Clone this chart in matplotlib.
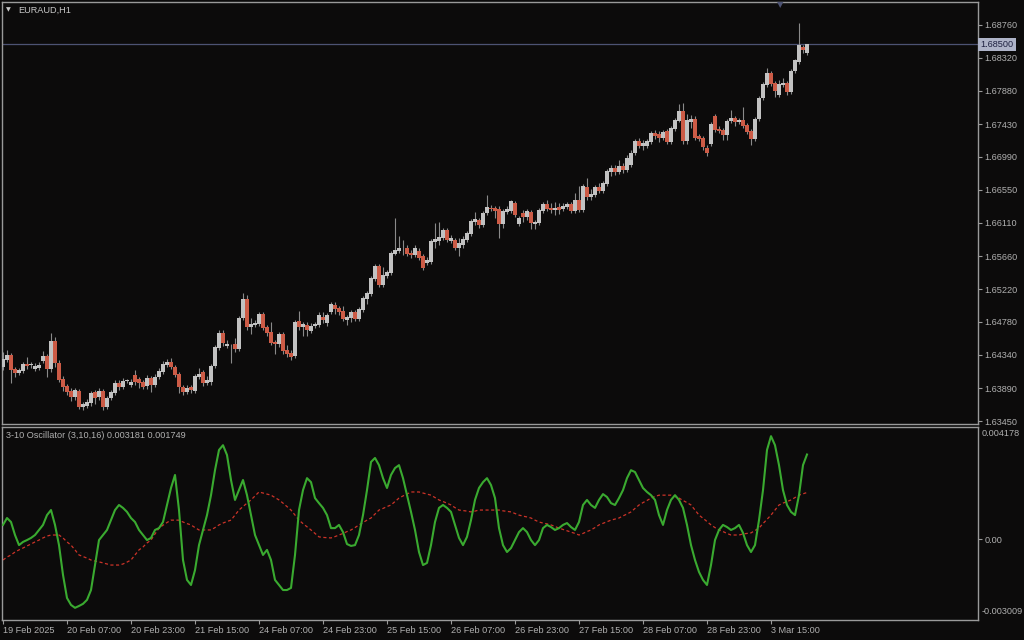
import matplotlib
matplotlib.use('Agg')
import matplotlib.pyplot as plt
import matplotlib.transforms as mtransforms
import numpy as np

# ---------------- data ----------------
opens = [
    1.6417, 1.6427, 1.6433, 1.6415, 1.6409, 1.6412, 1.6421, 1.6420, 1.6415, 1.6416,
    1.6425, 1.6432, 1.6415, 1.6452, 1.6423, 1.6401, 1.6392, 1.6385, 1.6377, 1.6385,
    1.6364, 1.6365, 1.6369, 1.6384, 1.6377, 1.6385, 1.6364, 1.6376, 1.6383, 1.6396,
    1.6391, 1.6399, 1.6393, 1.6407, 1.6401, 1.6397, 1.6392, 1.6403, 1.6393, 1.6404,
    1.6411, 1.6420, 1.6424, 1.6417, 1.6408, 1.6391, 1.6384, 1.6391, 1.6385, 1.6404,
    1.6411, 1.6396, 1.6397, 1.6419, 1.6443, 1.6463, 1.6446, 1.6437, 1.6448, 1.6441,
    1.6483, 1.6508, 1.6471, 1.6474, 1.6475, 1.6488, 1.6471, 1.6464, 1.6451, 1.6448,
    1.6462, 1.6440, 1.6436, 1.6432, 1.6479, 1.6471, 1.6474, 1.6466, 1.6472, 1.6474,
    1.6484, 1.6476, 1.6491, 1.6500, 1.6496, 1.6492, 1.6480, 1.6483, 1.6491, 1.6482,
    1.6494, 1.6508, 1.6515, 1.6535, 1.6553, 1.6527, 1.6539, 1.6543, 1.6569, 1.6573,
    1.6575, 1.6577, 1.6570, 1.6567, 1.6573, 1.6566, 1.6557, 1.6558, 1.6585, 1.6586,
    1.6590, 1.6601, 1.6586, 1.6588, 1.6577, 1.6581, 1.6588, 1.6596, 1.6612, 1.6614,
    1.6608, 1.6624, 1.6630, 1.6630, 1.6629, 1.6609, 1.6625, 1.6626, 1.6637, 1.6609,
    1.6624, 1.6618, 1.6625, 1.6609, 1.6610, 1.6626, 1.6636, 1.6630, 1.6628, 1.6632,
    1.6629, 1.6632, 1.6636, 1.6626, 1.6641, 1.6628, 1.6659, 1.6645, 1.6648, 1.6659,
    1.6653, 1.6663, 1.6679, 1.6684, 1.6679, 1.6687, 1.6681, 1.6688, 1.6704, 1.6720,
    1.6714, 1.6714, 1.6719, 1.6731, 1.6730, 1.6724, 1.6734, 1.6719, 1.6736, 1.6747,
    1.6760, 1.6720, 1.6746, 1.6750, 1.6727, 1.6724, 1.6711, 1.6716, 1.6754, 1.6736,
    1.6735, 1.6728, 1.6747, 1.6751, 1.6746, 1.6748, 1.6742, 1.6734, 1.6723, 1.6750,
    1.6778, 1.6795, 1.6811, 1.6798, 1.6782, 1.6795, 1.6798, 1.6786, 1.6814, 1.6827,
    1.6846, 1.6839,
]
closes = [
    1.6428, 1.6433, 1.6413, 1.6409, 1.6413, 1.6421, 1.6419, 1.6420, 1.6419, 1.6420,
    1.6432, 1.6415, 1.6452, 1.6423, 1.6400, 1.6391, 1.6384, 1.6377, 1.6387, 1.6364,
    1.6368, 1.6370, 1.6383, 1.6376, 1.6385, 1.6364, 1.6376, 1.6384, 1.6396, 1.6391,
    1.6399, 1.6399, 1.6397, 1.6397, 1.6396, 1.6391, 1.6403, 1.6393, 1.6404, 1.6412,
    1.6421, 1.6424, 1.6417, 1.6407, 1.6391, 1.6384, 1.6389, 1.6387, 1.6405, 1.6408,
    1.6396, 1.6400, 1.6419, 1.6444, 1.6463, 1.6450, 1.6448, 1.6438, 1.6441, 1.6483,
    1.6508, 1.6471, 1.6475, 1.6476, 1.6488, 1.6470, 1.6463, 1.6450, 1.6448, 1.6462,
    1.6439, 1.6435, 1.6431, 1.6478, 1.6471, 1.6475, 1.6467, 1.6472, 1.6475, 1.6487,
    1.6480, 1.6487, 1.6502, 1.6495, 1.6491, 1.6482, 1.6484, 1.6491, 1.6482, 1.6495,
    1.6510, 1.6517, 1.6537, 1.6553, 1.6527, 1.6541, 1.6545, 1.6570, 1.6574, 1.6577,
    1.6576, 1.6569, 1.6567, 1.6577, 1.6563, 1.6550, 1.6561, 1.6586, 1.6589, 1.6592,
    1.6601, 1.6588, 1.6590, 1.6577, 1.6584, 1.6589, 1.6597, 1.6613, 1.6616, 1.6608,
    1.6624, 1.6632, 1.6629, 1.6626, 1.6609, 1.6626, 1.6629, 1.6640, 1.6621, 1.6617,
    1.6618, 1.6626, 1.6610, 1.6612, 1.6628, 1.6636, 1.6629, 1.6628, 1.6630, 1.6628,
    1.6633, 1.6636, 1.6626, 1.6641, 1.6628, 1.6660, 1.6645, 1.6649, 1.6659, 1.6653,
    1.6664, 1.6680, 1.6684, 1.6679, 1.6687, 1.6681, 1.6697, 1.6705, 1.6720, 1.6714,
    1.6718, 1.6720, 1.6731, 1.6727, 1.6724, 1.6732, 1.6719, 1.6738, 1.6748, 1.6760,
    1.6720, 1.6748, 1.6750, 1.6724, 1.6723, 1.6712, 1.6704, 1.6743, 1.6735, 1.6734,
    1.6728, 1.6747, 1.6751, 1.6746, 1.6748, 1.6740, 1.6732, 1.6723, 1.6750, 1.6778,
    1.6797, 1.6811, 1.6797, 1.6787, 1.6797, 1.6798, 1.6786, 1.6814, 1.6829, 1.6849,
    1.6842, 1.6850,
]
highs = [
    1.6437, 1.6440, 1.6436, 1.6417, 1.6416, 1.6424, 1.6431, 1.6424, 1.6423, 1.6424,
    1.6439, 1.6435, 1.6463, 1.6458, 1.6427, 1.6405, 1.6395, 1.6389, 1.6389, 1.6388,
    1.6370, 1.6374, 1.6385, 1.6387, 1.6389, 1.6388, 1.6379, 1.6387, 1.6400, 1.6400,
    1.6403, 1.6401, 1.6401, 1.6413, 1.6404, 1.6400, 1.6407, 1.6405, 1.6408, 1.6416,
    1.6425, 1.6428, 1.6429, 1.6420, 1.6411, 1.6393, 1.6393, 1.6393, 1.6408, 1.6416,
    1.6413, 1.6405, 1.6421, 1.6447, 1.6467, 1.6467, 1.6454, 1.6448, 1.6456, 1.6486,
    1.6517, 1.6514, 1.6483, 1.6480, 1.6491, 1.6491, 1.6474, 1.6478, 1.6454, 1.6464,
    1.6464, 1.6447, 1.6440, 1.6480, 1.6492, 1.6478, 1.6478, 1.6476, 1.6478, 1.6491,
    1.6491, 1.6490, 1.6504, 1.6504, 1.6499, 1.6499, 1.6487, 1.6494, 1.6494, 1.6498,
    1.6513, 1.6519, 1.6539, 1.6555, 1.6555, 1.6551, 1.6547, 1.6573, 1.6617, 1.6593,
    1.6588, 1.6581, 1.6574, 1.6581, 1.6577, 1.6569, 1.6565, 1.6589, 1.6610, 1.6612,
    1.6604, 1.6604, 1.6594, 1.6590, 1.6590, 1.6593, 1.6600, 1.6616, 1.6625, 1.6617,
    1.6626, 1.6648, 1.6634, 1.6633, 1.6633, 1.6629, 1.6633, 1.6642, 1.6640, 1.6620,
    1.6628, 1.6629, 1.6628, 1.6614, 1.6630, 1.6638, 1.6641, 1.6637, 1.6638, 1.6637,
    1.6637, 1.6638, 1.6638, 1.6651, 1.6660, 1.6663, 1.6671, 1.6656, 1.6661, 1.6664,
    1.6667, 1.6683, 1.6688, 1.6688, 1.6695, 1.6691, 1.6701, 1.6708, 1.6723, 1.6724,
    1.6722, 1.6723, 1.6734, 1.6735, 1.6734, 1.6735, 1.6736, 1.6740, 1.6751, 1.6770,
    1.6771, 1.6756, 1.6755, 1.6754, 1.6730, 1.6727, 1.6715, 1.6746, 1.6756, 1.6740,
    1.6738, 1.6750, 1.6762, 1.6754, 1.6751, 1.6766, 1.6744, 1.6736, 1.6752, 1.6781,
    1.6799, 1.6818, 1.6814, 1.6801, 1.6802, 1.6805, 1.6801, 1.6817, 1.6831, 1.6878,
    1.6849, 1.6851,
]
lows = [
    1.6413, 1.6424, 1.6396, 1.6404, 1.6407, 1.6409, 1.6415, 1.6416, 1.6412, 1.6413,
    1.6423, 1.6404, 1.6411, 1.6417, 1.6397, 1.6385, 1.6380, 1.6372, 1.6373, 1.6361,
    1.6360, 1.6362, 1.6365, 1.6368, 1.6373, 1.6360, 1.6361, 1.6373, 1.6380, 1.6387,
    1.6388, 1.6396, 1.6391, 1.6393, 1.6389, 1.6388, 1.6388, 1.6384, 1.6391, 1.6401,
    1.6408, 1.6417, 1.6415, 1.6404, 1.6383, 1.6380, 1.6381, 1.6383, 1.6383, 1.6401,
    1.6392, 1.6393, 1.6393, 1.6416, 1.6440, 1.6446, 1.6443, 1.6423, 1.6437, 1.6439,
    1.6480, 1.6467, 1.6462, 1.6471, 1.6472, 1.6467, 1.6459, 1.6447, 1.6435, 1.6444,
    1.6435, 1.6431, 1.6427, 1.6429, 1.6467, 1.6459, 1.6459, 1.6463, 1.6470, 1.6471,
    1.6476, 1.6472, 1.6488, 1.6488, 1.6487, 1.6479, 1.6474, 1.6478, 1.6479, 1.6479,
    1.6491, 1.6502, 1.6513, 1.6533, 1.6525, 1.6525, 1.6537, 1.6541, 1.6567, 1.6570,
    1.6567, 1.6566, 1.6563, 1.6565, 1.6561, 1.6547, 1.6554, 1.6555, 1.6577, 1.6581,
    1.6588, 1.6585, 1.6584, 1.6574, 1.6566, 1.6577, 1.6585, 1.6593, 1.6608, 1.6604,
    1.6605, 1.6621, 1.6626, 1.6617, 1.6590, 1.6604, 1.6622, 1.6624, 1.6618, 1.6606,
    1.6612, 1.6614, 1.6602, 1.6602, 1.6608, 1.6624, 1.6626, 1.6624, 1.6621, 1.6622,
    1.6626, 1.6629, 1.6624, 1.6624, 1.6625, 1.6625, 1.6642, 1.6641, 1.6645, 1.6651,
    1.6651, 1.6660, 1.6673, 1.6675, 1.6676, 1.6677, 1.6679, 1.6685, 1.6701, 1.6711,
    1.6708, 1.6711, 1.6716, 1.6723, 1.6719, 1.6722, 1.6716, 1.6716, 1.6734, 1.6746,
    1.6717, 1.6717, 1.6738, 1.6722, 1.6720, 1.6709, 1.6700, 1.6714, 1.6732, 1.6731,
    1.6722, 1.6722, 1.6744, 1.6740, 1.6743, 1.6738, 1.6730, 1.6715, 1.6720, 1.6747,
    1.6775, 1.6793, 1.6794, 1.6779, 1.6779, 1.6793, 1.6782, 1.6783, 1.6811, 1.6824,
    1.6839, 1.6836,
]
osc_main = [
    0.00053, 0.00079, 0.00064, 0.00015, -0.00023, -0.00011, -0.00004, 0.00004, 0.00015, 0.00034,
    0.00053, 0.00090, 0.00109, 0.00053, -0.00023, -0.00135, -0.00222, -0.00248, -0.00259, -0.00252,
    -0.00244, -0.00229, -0.00192, -0.00098, -0.00004, 0.00015, 0.00034, 0.00071, 0.00109, 0.00128,
    0.00117, 0.00102, 0.00079, 0.00064, 0.00034, 0.00015, -0.00004, 0.00004, 0.00034, 0.00041,
    0.00064, 0.00128, 0.00192, 0.00241, 0.00109, -0.00079, -0.00154, -0.00173, -0.00117, -0.00023,
    0.00034, 0.00090, 0.00165, 0.00259, 0.00335, 0.00353, 0.00316, 0.00222, 0.00147, 0.00184,
    0.00222, 0.00165, 0.00090, 0.00015, -0.00023, -0.00060, -0.00041, -0.00079, -0.00154, -0.00173,
    -0.00192, -0.00192, -0.00184, -0.00060, 0.00109, 0.00184, 0.00229, 0.00214, 0.00154, 0.00135,
    0.00117, 0.00090, 0.00041, 0.00041, 0.00053, 0.00026, -0.00019, -0.00026, -0.00023, 0.00015,
    0.00090, 0.00184, 0.00290, 0.00305, 0.00278, 0.00229, 0.00192, 0.00241, 0.00267, 0.00278,
    0.00229, 0.00165, 0.00102, 0.00034, -0.00049, -0.00098, -0.00090, -0.00023, 0.00064, 0.00117,
    0.00128, 0.00117, 0.00102, 0.00053, 0.00004, -0.00023, 0.00008, 0.00071, 0.00147, 0.00192,
    0.00214, 0.00229, 0.00203, 0.00154, 0.00041, -0.00023, -0.00049, -0.00034, -0.00004, 0.00026,
    0.00041, 0.00026, -0.00004, -0.00023, -0.00004, 0.00041, 0.00053, 0.00045, 0.00034, 0.00041,
    0.00053, 0.00060, 0.00045, 0.00034, 0.00064, 0.00128, 0.00147, 0.00128, 0.00117, 0.00147,
    0.00169, 0.00158, 0.00135, 0.00128, 0.00154, 0.00184, 0.00229, 0.00259, 0.00252, 0.00222,
    0.00192, 0.00177, 0.00165, 0.00147, 0.00090, 0.00053, 0.00109, 0.00147, 0.00165, 0.00147,
    0.00117, 0.00053, -0.00023, -0.00079, -0.00124, -0.00154, -0.00173, -0.00098, -0.00004, 0.00034,
    0.00053, 0.00045, 0.00034, 0.00041, 0.00053, 0.00023, -0.00023, -0.00049, -0.00023, 0.00071,
    0.00184, 0.00335, 0.00387, 0.00353, 0.00278, 0.00184, 0.00128, 0.00102, 0.00090, 0.00165,
    0.00278, 0.00318,
]
osc_signal = [
    -0.00079, -0.00068, -0.00060, -0.00049, -0.00041, -0.00034, -0.00026, -0.00019, -0.00011, -0.00004,
    0.00004, 0.00011, 0.00015, 0.00015, 0.00015, 0.00004, -0.00011, -0.00023, -0.00041, -0.00060,
    -0.00066, -0.00072, -0.00079, -0.00083, -0.00086, -0.00090, -0.00094, -0.00098, -0.00098, -0.00098,
    -0.00094, -0.00087, -0.00079, -0.00060, -0.00041, -0.00030, -0.00015, -0.00004, 0.00019, 0.00041,
    0.00052, 0.00062, 0.00071, 0.00071, 0.00071, 0.00064, 0.00058, 0.00053, 0.00043, 0.00034,
    0.00034, 0.00034, 0.00034, 0.00043, 0.00053, 0.00060, 0.00066, 0.00071, 0.00090, 0.00109,
    0.00122, 0.00135, 0.00147, 0.00162, 0.00177, 0.00173, 0.00169, 0.00165, 0.00156, 0.00147,
    0.00135, 0.00122, 0.00109, 0.00090, 0.00071, 0.00058, 0.00046, 0.00034, 0.00021, 0.00008,
    0.00006, 0.00005, 0.00004, 0.00009, 0.00015, 0.00021, 0.00028, 0.00034, 0.00043, 0.00053,
    0.00062, 0.00071, 0.00079, 0.00094, 0.00109, 0.00115, 0.00122, 0.00128, 0.00141, 0.00154,
    0.00162, 0.00169, 0.00177, 0.00177, 0.00177, 0.00173, 0.00169, 0.00165, 0.00156, 0.00147,
    0.00141, 0.00135, 0.00128, 0.00118, 0.00109, 0.00107, 0.00105, 0.00102, 0.00105, 0.00109,
    0.00109, 0.00109, 0.00109, 0.00109, 0.00109, 0.00106, 0.00104, 0.00102, 0.00096, 0.00090,
    0.00086, 0.00083, 0.00079, 0.00071, 0.00064, 0.00060, 0.00057, 0.00053, 0.00047, 0.00041,
    0.00036, 0.00031, 0.00026, 0.00021, 0.00015, 0.00021, 0.00028, 0.00034, 0.00043, 0.00053,
    0.00059, 0.00065, 0.00071, 0.00075, 0.00079, 0.00087, 0.00094, 0.00102, 0.00115, 0.00128,
    0.00137, 0.00145, 0.00154, 0.00160, 0.00165, 0.00165, 0.00165, 0.00165, 0.00160, 0.00154,
    0.00145, 0.00137, 0.00128, 0.00109, 0.00090, 0.00078, 0.00066, 0.00053, 0.00043, 0.00034,
    0.00028, 0.00021, 0.00015, 0.00015, 0.00015, 0.00019, 0.00021, 0.00023, 0.00032, 0.00041,
    0.00058, 0.00074, 0.00090, 0.00109, 0.00128, 0.00135, 0.00141, 0.00147, 0.00156, 0.00165,
    0.00170, 0.00175,
]
price_ticks = [1.68760, 1.68320, 1.67880, 1.67430, 1.66990, 1.66550, 1.66110,
               1.65660, 1.65220, 1.64780, 1.64340, 1.63890, 1.63450]
time_labels = ["19 Feb 2025", "20 Feb 07:00", "20 Feb 23:00", "21 Feb 15:00",
               "24 Feb 07:00", "24 Feb 23:00", "25 Feb 15:00", "26 Feb 07:00",
               "26 Feb 23:00", "27 Feb 15:00", "28 Feb 07:00", "28 Feb 23:00",
               "3 Mar 15:00"]
time_label_step = 16
current_price = 1.68500
osc_top_label, osc_bottom_label = 0.004178, -0.003009
symbol_title = "EURAUD,H1"
osc_title = "3-10 Oscillator (3,10,16) 0.003181 0.001749"

# ---------------- style ----------------
BG = '#0c0b0b'
FRAME = '#9a9a9a'
TXT = '#b0b0b0'
BULL = '#c2c2c2'
BEAR = '#cc5b46'
WICK = '#8a8a8a'
GREEN = '#3aaa30'
RED = '#cc3328'
FONT = 'Liberation Sans'
FS = 6.6

W, H = 1024, 640
fig = plt.figure(figsize=(W / 100, H / 100), dpi=100)
fig.patch.set_facecolor(BG)

ax = fig.add_axes([2 / W, 1 - 424 / H, 976 / W, 422 / H])
ax2 = fig.add_axes([2 / W, 1 - 620 / H, 976 / W, 193 / H])

o = np.array(opens); c = np.array(closes)
hi = np.array(highs); lo = np.array(lows)
n = len(o)
x = np.arange(n)
up = c >= o
bot = np.minimum(o, c)
hgt = np.maximum(np.abs(c - o), 0.00009)

for a in (ax, ax2):
    a.set_facecolor(BG)
    for s in a.spines.values():
        s.set_color(FRAME)
        s.set_linewidth(1.0)
    a.set_xlim(-0.25, 243.75)

# candles
ax.vlines(x, lo, hi, color=WICK, lw=0.8, zorder=2)
ax.bar(x[up], hgt[up], bottom=bot[up], width=0.78, color=BULL, linewidth=0, zorder=3)
ax.bar(x[~up], hgt[~up], bottom=bot[~up], width=0.78, color=BEAR, linewidth=0, zorder=3)
ax.axhline(current_price, color='#4d5373', lw=0.9, zorder=1)
ax.set_ylim(1.63410, 1.69068)

ax.set_xticks([])
ax.yaxis.tick_right()
ax.set_yticks(price_ticks)
ax.set_yticklabels([f"{v:.5f}" for v in price_ticks])
ax.tick_params(axis='y', colors=FRAME, labelcolor=TXT, length=3, width=0.8,
               pad=1.5, labelsize=FS)
for lbl in ax.get_yticklabels():
    lbl.set_fontfamily(FONT)

# current price label
ax.text(1.0025, current_price, f"{current_price:.5f}",
        transform=mtransforms.blended_transform_factory(ax.transAxes, ax.transData),
        ha='left', va='center', fontsize=FS, family=FONT, color='#1d2040',
        bbox=dict(boxstyle='square,pad=0.25', facecolor='#aeb3c8', edgecolor='none'),
        zorder=10, clip_on=False)

# oscillator
ax2.plot(x, osc_main, color=GREEN, lw=1.5, zorder=3)
ax2.plot(x, osc_signal, color=RED, lw=0.9, ls=(0, (2.5, 2)), zorder=2)
ax2.set_ylim(-0.003048, 0.004215)
ax2.yaxis.tick_right()
ax2.set_yticks([0.0])
ax2.set_yticklabels(["0.00"])
ax2.tick_params(axis='y', colors=FRAME, labelcolor=TXT, length=3, width=0.8,
                pad=1.5, labelsize=FS)
for lbl in ax2.get_yticklabels():
    lbl.set_fontfamily(FONT)
tr = mtransforms.blended_transform_factory(ax2.transAxes, ax2.transAxes)
ax2.text(1.004, 0.965, f"{osc_top_label:.6f}", transform=tr, ha='left', va='center',
         fontsize=FS, family=FONT, color=TXT, clip_on=False)
ax2.text(1.004, 0.045, f"{osc_bottom_label:.6f}", transform=tr, ha='left', va='center',
         fontsize=FS, family=FONT, color=TXT, clip_on=False)

tick_idx = [k * time_label_step for k in range(len(time_labels))]
ax2.set_xticks(tick_idx)
ax2.set_xticklabels(time_labels)
ax2.tick_params(axis='x', colors=FRAME, labelcolor=TXT, length=3, width=0.8,
                pad=1.5, labelsize=FS)
for lbl in ax2.get_xticklabels():
    lbl.set_ha('left')
    lbl.set_fontfamily(FONT)

# titles
fig.text(18 / W, 1 - 10 / H, symbol_title, fontsize=FS, family=FONT, color='#c8c8c8',
         ha='left', va='center')
fig.text(8 / W, 1 - 10 / H, '\u25BC', fontsize=4.5, family='DejaVu Sans', color='#c8c8c8',
         ha='center', va='center')
fig.text(6 / W, 1 - 435 / H, osc_title, fontsize=FS, family=FONT, color=TXT,
         ha='left', va='center')
fig.text(780 / W, 1 - 5 / H, '\u25BC', fontsize=6, family='DejaVu Sans', color='#4d5373',
         ha='center', va='center')

fig.savefig('out.png', dpi=100, facecolor=BG)
